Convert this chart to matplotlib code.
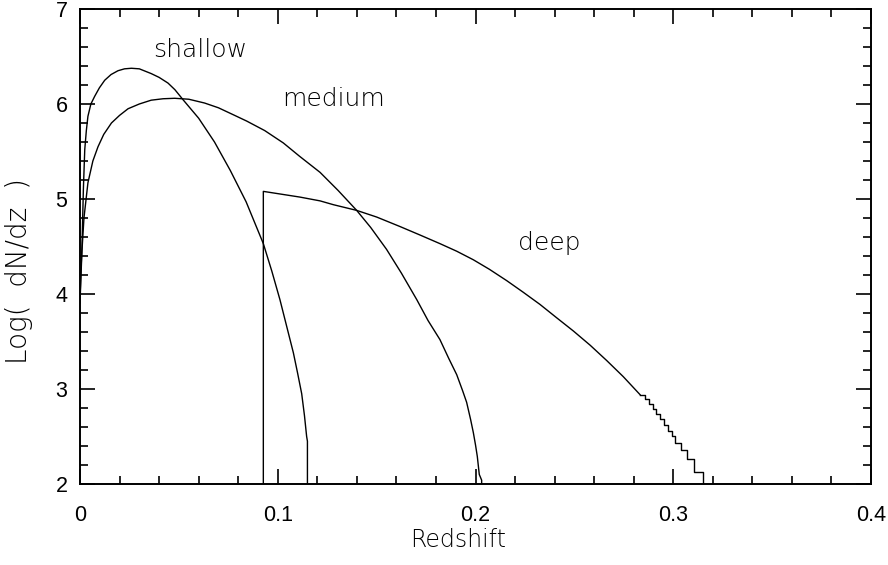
import matplotlib.pyplot as plt
from matplotlib.ticker import MultipleLocator, FuncFormatter

# curves (redshift, log dN/dz)
shallow_z = [0.0, 0.0005, 0.001, 0.0017, 0.0024, 0.0032, 0.004, 0.0055, 0.0074,
             0.0098, 0.0125, 0.0157, 0.0192, 0.0225, 0.026, 0.030, 0.036, 0.040,
             0.0445, 0.048, 0.0523, 0.060, 0.068, 0.076, 0.084, 0.0927, 0.097,
             0.1011, 0.1045, 0.1079, 0.1100, 0.1121, 0.1135, 0.1146, 0.1150, 0.1150]
shallow_y = [3.95, 4.25, 4.5, 5.1, 5.52, 5.72, 5.87, 6.0, 6.08,
             6.17, 6.25, 6.31, 6.35, 6.37, 6.376, 6.37, 6.32, 6.28,
             6.22, 6.15, 6.04, 5.85, 5.60, 5.30, 4.97, 4.53, 4.24,
             3.94, 3.66, 3.38, 3.17, 2.95, 2.72, 2.50, 2.45, 2.0]

medium_z = [0.0, 0.0005, 0.001, 0.002, 0.004, 0.0065, 0.0091, 0.012, 0.0159,
            0.020, 0.0243, 0.030, 0.036, 0.042, 0.0479, 0.055, 0.063, 0.070,
            0.0782, 0.0843, 0.0934, 0.1028, 0.1110, 0.1214, 0.1305, 0.1399,
            0.1470, 0.155, 0.1625, 0.1703, 0.176, 0.182, 0.1865, 0.1905, 0.1935,
            0.1955, 0.1975, 0.1989, 0.2000, 0.2009, 0.2019, 0.2025, 0.2031, 0.2031]
medium_y = [3.9, 4.2, 4.46, 4.8, 5.17, 5.40, 5.55, 5.68, 5.80,
            5.88, 5.95, 6.00, 6.04, 6.055, 6.06, 6.05, 6.01, 5.96,
            5.88, 5.82, 5.72, 5.59, 5.45, 5.28, 5.09, 4.88,
            4.70, 4.47, 4.22, 3.94, 3.72, 3.52, 3.32, 3.15, 2.98,
            2.86, 2.68, 2.54, 2.41, 2.29, 2.10, 2.07, 2.04, 2.0]

deep_z = [0.0927, 0.0927, 0.1112, 0.1214, 0.1281, 0.1399, 0.150, 0.1618, 0.172,
          0.182, 0.1905, 0.1989, 0.207, 0.2158, 0.224, 0.2326, 0.241, 0.2495,
          0.258, 0.2663, 0.2747, 0.2832]
deep_y = [2.0, 5.08, 5.02, 4.98, 4.94, 4.88, 4.81, 4.71, 4.62,
          4.53, 4.45, 4.36, 4.26, 4.14, 4.02, 3.89, 3.75, 3.61,
          3.46, 3.30, 3.13, 2.94]

# stepped tail of the deep curve
deep_tail_z = [0.2832, 0.2855, 0.2875, 0.2895, 0.2915, 0.2935, 0.2955, 0.2975,
               0.2992, 0.3009, 0.3037, 0.3068, 0.3105, 0.3152, 0.3152]
deep_tail_y = [2.94, 2.89, 2.84, 2.79, 2.74, 2.68, 2.62, 2.56,
               2.50, 2.43, 2.36, 2.26, 2.13, 2.13, 2.0]

labels = ["shallow", "medium", "deep"]
label_x = [0.0607, 0.1284, 0.2372]
label_y = [6.495, 5.98, 4.46]

fig = plt.figure(figsize=(8.88, 5.65), dpi=100)
ax = fig.add_axes([0.0901, 0.1434, 0.8908, 0.8407])

lw = 1.0
ax.plot(shallow_z, shallow_y, color="black", lw=lw)
ax.plot(medium_z, medium_y, color="black", lw=lw)
ax.plot(deep_z, deep_y, color="black", lw=lw)
ax.step(deep_tail_z, deep_tail_y, where="post", color="black", lw=lw)

thin = dict(family="DejaVu Sans", fontweight="light", color="black")
for t, x, y in zip(labels, label_x, label_y):
    ax.text(x, y, t, ha="center", va="baseline", fontsize=18, **thin)

ax.set_xlim(0, 0.4)
ax.set_ylim(2, 7)
ax.xaxis.set_major_locator(MultipleLocator(0.1))
ax.xaxis.set_minor_locator(MultipleLocator(0.02))
ax.yaxis.set_major_locator(MultipleLocator(1))
ax.yaxis.set_minor_locator(MultipleLocator(0.2))
ax.xaxis.set_major_formatter(FuncFormatter(lambda v, p: "0" if v == 0 else f"{v:.1f}"))

ax.tick_params(which="both", direction="in", top=True, right=True, width=1.2)
ax.tick_params(which="major", length=11)
ax.tick_params(which="minor", length=5.5)
ax.tick_params(axis="x", which="major", pad=15, labelsize=15.5)
ax.tick_params(axis="y", which="major", pad=9, labelsize=15.5)
for lab in ax.get_xticklabels() + ax.get_yticklabels():
    lab.set_family("Liberation Sans")
for s in ax.spines.values():
    s.set_linewidth(1.4)

ax.set_xlabel("Redshift", fontsize=17, **thin)
ax.set_ylabel("Log(  dN/dz  )", fontsize=20, **thin)
ax.xaxis.set_label_coords(0.478, -0.092)
ax.yaxis.set_label_coords(-0.059, 0.448)

fig.savefig("out.png", dpi=100)
